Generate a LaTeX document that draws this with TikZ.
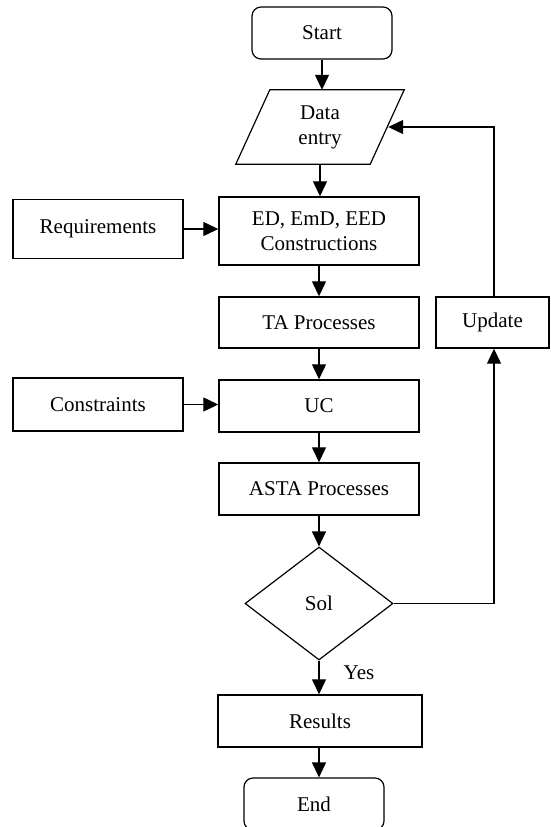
\documentclass[tikz,border=0pt]{standalone}
\usepackage{fontspec}
\setmainfont{Liberation Serif}
\usetikzlibrary{shapes.geometric,arrows.meta,calc}
\begin{document}
\begin{tikzpicture}[x=1pt,y=-1pt,
  every node/.style={font=\fontsize{21}{25}\selectfont, inner sep=0pt, align=center},
  box/.style={draw, line width=1.4pt, rectangle, minimum width=#1},
  box/.default=200,
  term/.style={draw, line width=1.2pt, rounded corners=9pt, minimum width=140, minimum height=52},
  dec/.style={draw, line width=1.2pt, diamond, minimum width=148, minimum height=113},
  conn/.style={line width=1.2pt, -{Triangle[length=15pt,width=14pt]}},
  plain/.style={line width=1.2pt}
]
\clip (0,0) rectangle (550,827);
\useasboundingbox (0,0) rectangle (550,827);

\node[term] (start) at (322,33) {Start};
\node[minimum width=168, minimum height=74] (data) at (320,127) {Data\\entry};
\draw[line width=1.2pt] ($(data.north west)+(34,0)$) -- (data.north east) -- ($(data.south east)+(-34,0)$) -- (data.south west) -- cycle;
\coordinate (dataR) at ($(data.east)+(-16,0)$);

\node[box=170, minimum height=59] (req) at (98,229) {Requirements};
\node[box, minimum height=68] (ed) at (319,231) {ED, EmD, EED\\Constructions};
\node[box, minimum height=51] (ta) at (319,322.5) {TA Processes};
\node[box=113, minimum height=51] (upd) at (492.5,322.5) {Update};
\node[box=170, minimum height=53] (con) at (98,404.5) {Constraints};
\node[box, minimum height=52] (uc) at (319,406) {UC};
\node[box, minimum height=52] (asta) at (319,489) {ASTA Processes};
\node[dec] (sol) at (319,603.5) {Sol};
\node[box=204, minimum height=52] (res) at (320,721) {Results};
\node[term] (endn) at (314,804) {End};
\node (yes) at (359,673) {Yes};

\draw[conn] (start) -- (start.south |- data.north);
\draw[conn] (data.south) -- (data.south |- ed.north);
\draw[conn] (req.east) -- (req.east -| ed.west);
\draw[conn] (ed) -- (ta);
\draw[conn] (ta) -- (uc);
\draw[conn] (con.east) -- (con.east -| uc.west);
\draw[conn] (uc) -- (asta);
\draw[conn] (asta) -- (sol.north);
\draw[conn] (sol.south) -- (sol.south |- res.north);
\draw[conn] (res.south -| sol.south) -- (sol.south |- endn.north);
\draw[conn] (sol.east) -- ($(sol.east -| upd.south)+(1.5,0)$) -- ($(upd.south)+(1.5,0)$);
\draw[conn] ($(upd.north)+(1.5,0)$) -- ($(upd.north |- dataR)+(1.5,0)$) -- (dataR);
\end{tikzpicture}
\end{document}
